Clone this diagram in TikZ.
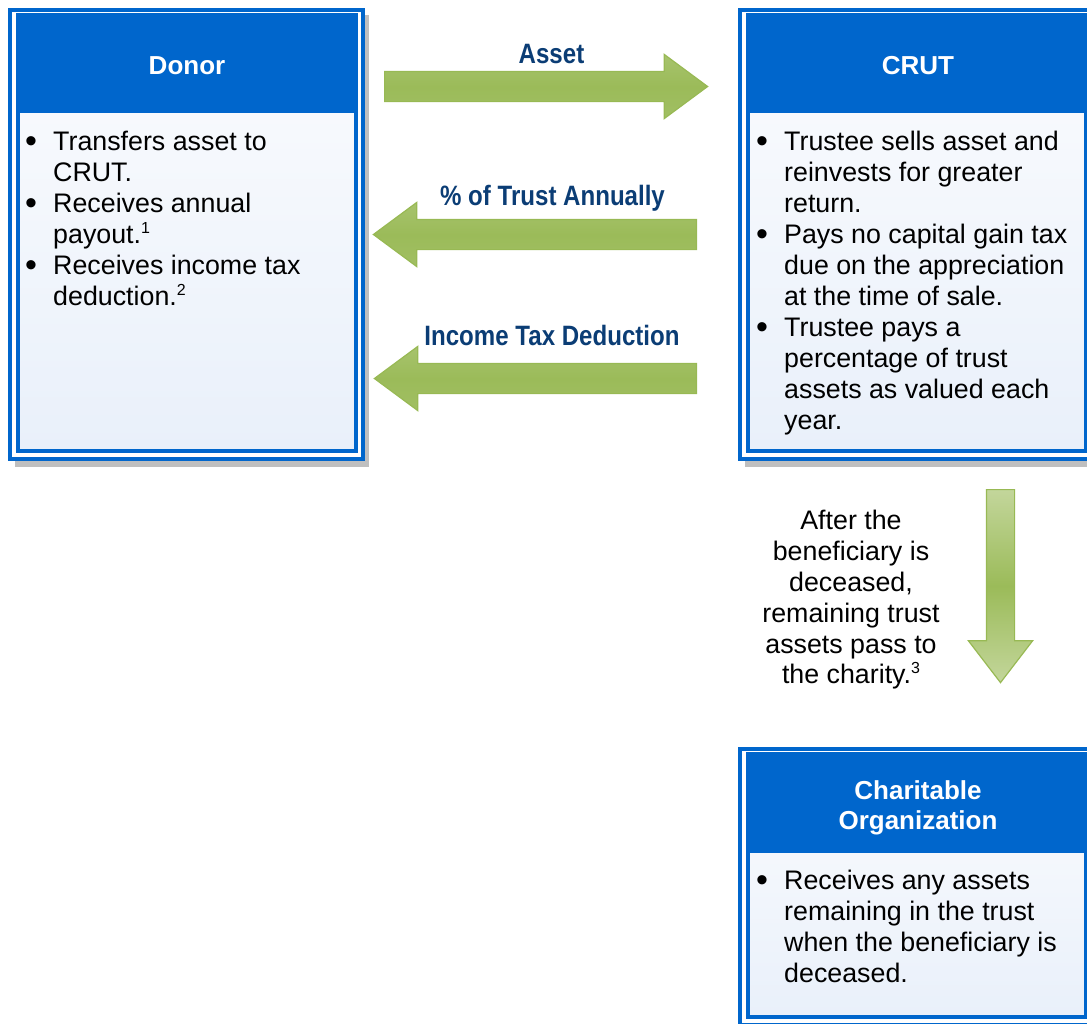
\documentclass[tikz,border=0pt]{standalone}
\usepackage{fontspec}
\setmainfont{Liberation Sans}
\newfontfamily\labelfont[FakeStretch=0.86]{Liberation Sans}
\usepackage{xcolor}
\usepackage{tikz}
\usetikzlibrary{shapes,shapes.arrows,arrows,positioning,calc}

\definecolor{boxblue}{HTML}{0066CC}
\definecolor{labelblue}{HTML}{0B3D75}
\definecolor{arrowgreen}{HTML}{9BBB59}
\definecolor{arrowlight}{HTML}{C3D69B}
\definecolor{arrowedge}{HTML}{98B954}
\definecolor{shadowgray}{HTML}{BFBFBF}
\definecolor{bodytop}{HTML}{FBFCFE}
\definecolor{bodybottom}{HTML}{E9F0FA}

\newcommand{\supnum}[1]{\raisebox{10pt}{\fontsize{16}{16}\selectfont #1}}
\newcommand{\dotmark}{\hspace{-1pt}\raisebox{-1.5pt}{\fontsize{34}{31}\selectfont\textbullet}}

\tikzset{
    frame/.style={boxblue, line width=4pt},
    bodytext/.style={anchor=north west, inner sep=0pt, font=\fontsize{26.8}{31}\selectfont},
    headtext/.style={text=white, inner sep=0pt, align=center, font=\bfseries\fontsize{26}{30}\selectfont},
    flowlabel/.style={text=labelblue, anchor=base, inner sep=0pt, font=\labelfont\bfseries\fontsize{28}{30}\selectfont},
    blockarrow/.style={single arrow, anchor=tail, draw=arrowedge, line width=1.2pt, inner xsep=0pt, inner ysep=14.5pt,
        single arrow head extend=17pt, single arrow tip angle=73}
}

\begin{document}
\begin{tikzpicture}[x=1pt, y=-1pt]
    \useasboundingbox (0,0) rectangle (1087,1023);

    % Donor
    \fill[shadowgray] (15,15) rectangle (369,467);
    \draw[frame, fill=white] (10,10) rectangle (363,459);
    \draw[frame, top color=bodytop, bottom color=bodybottom] (18,15) rectangle (356,451);
    \fill[boxblue] (16,15) rectangle (358,113);
    \node[headtext] (donor) at (187,66) {Donor};
    \node[bodytext] (donorlist) at (26,129) {\begin{tabular}{@{}p{27pt}@{}l@{}}
        \dotmark & Transfers asset to\\
                 & CRUT.\\
        \dotmark & Receives annual\\
                 & payout.\supnum{1}\\
        \dotmark & Receives income tax\\
                 & deduction.\supnum{2}
    \end{tabular}};

    % CRUT
    \fill[shadowgray] (745,15) rectangle (1099,467);
    \draw[frame, fill=white] (740,10) rectangle (1093,459);
    \draw[frame, top color=bodytop, bottom color=bodybottom] (748,15) rectangle (1086,451);
    \fill[boxblue] (746,15) rectangle (1088,113);
    \node[headtext] (crut) at (918,66) {CRUT};
    \node[bodytext] (crutlist) at (757,129) {\begin{tabular}{@{}p{27pt}@{}l@{}}
        \dotmark & Trustee sells asset and\\
                 & reinvests for greater\\
                 & return.\\
        \dotmark & Pays no capital gain tax\\
                 & due on the appreciation\\
                 & at the time of sale.\\
        \dotmark & Trustee pays a\\
                 & percentage of trust\\
                 & assets as valued each\\
                 & year.
    \end{tabular}};

    % Charitable organization
    \draw[frame, fill=white] (740,749) rectangle (1093,1025);
    \draw[frame, top color=bodytop, bottom color=bodybottom] (748,754) rectangle (1086,1017);
    \fill[boxblue] (746,754) rectangle (1088,853);
    \node[headtext] (charity) at (918,808) {Charitable\\ Organization};
    \node[bodytext] (charitylist) at (757,868) {\begin{tabular}{@{}p{27pt}@{}l@{}}
        \dotmark & Receives any assets\\
                 & remaining in the trust\\
                 & when the beneficiary is\\
                 & deceased.
    \end{tabular}};

    % flows
    \node[blockarrow, minimum height=323pt, top color=arrowgreen!70!arrowlight, bottom color=arrowgreen!85!arrowlight,
        middle color=arrowgreen] (assetarrow) at (384,86.5) {};
    \node[flowlabel] (assetlbl) at (551.5,63.5) {Asset};

    \node[blockarrow, rotate=180, minimum height=323pt, top color=arrowgreen!70!arrowlight, bottom color=arrowgreen!85!arrowlight,
        middle color=arrowgreen] (payoutarrow) at (697,234.5) {};
    \node[flowlabel] (payoutlbl) at (552.5,205) {\% of Trust Annually};

    \node[blockarrow, rotate=180, minimum height=322pt, top color=arrowgreen!70!arrowlight, bottom color=arrowgreen!85!arrowlight,
        middle color=arrowgreen] (taxarrow) at (697,378.5) {};
    \node[flowlabel] (taxlbl) at (552,345) {Income Tax Deduction};

    \node[blockarrow, rotate=-90, minimum height=193pt, inner ysep=13.5pt, single arrow head extend=18pt, single arrow tip angle=75,
        top color=arrowlight, bottom color=arrowlight, middle color=arrowgreen] (remainderarrow) at (1000.5,489) {};
    \node[align=center, font=\fontsize{26.8}{30.8}\selectfont] (remaindertext) at (851,600) {After the\\ beneficiary is\\ deceased,\\ remaining trust\\ assets pass to\\ the charity.\supnum{3}};
\end{tikzpicture}
\end{document}
